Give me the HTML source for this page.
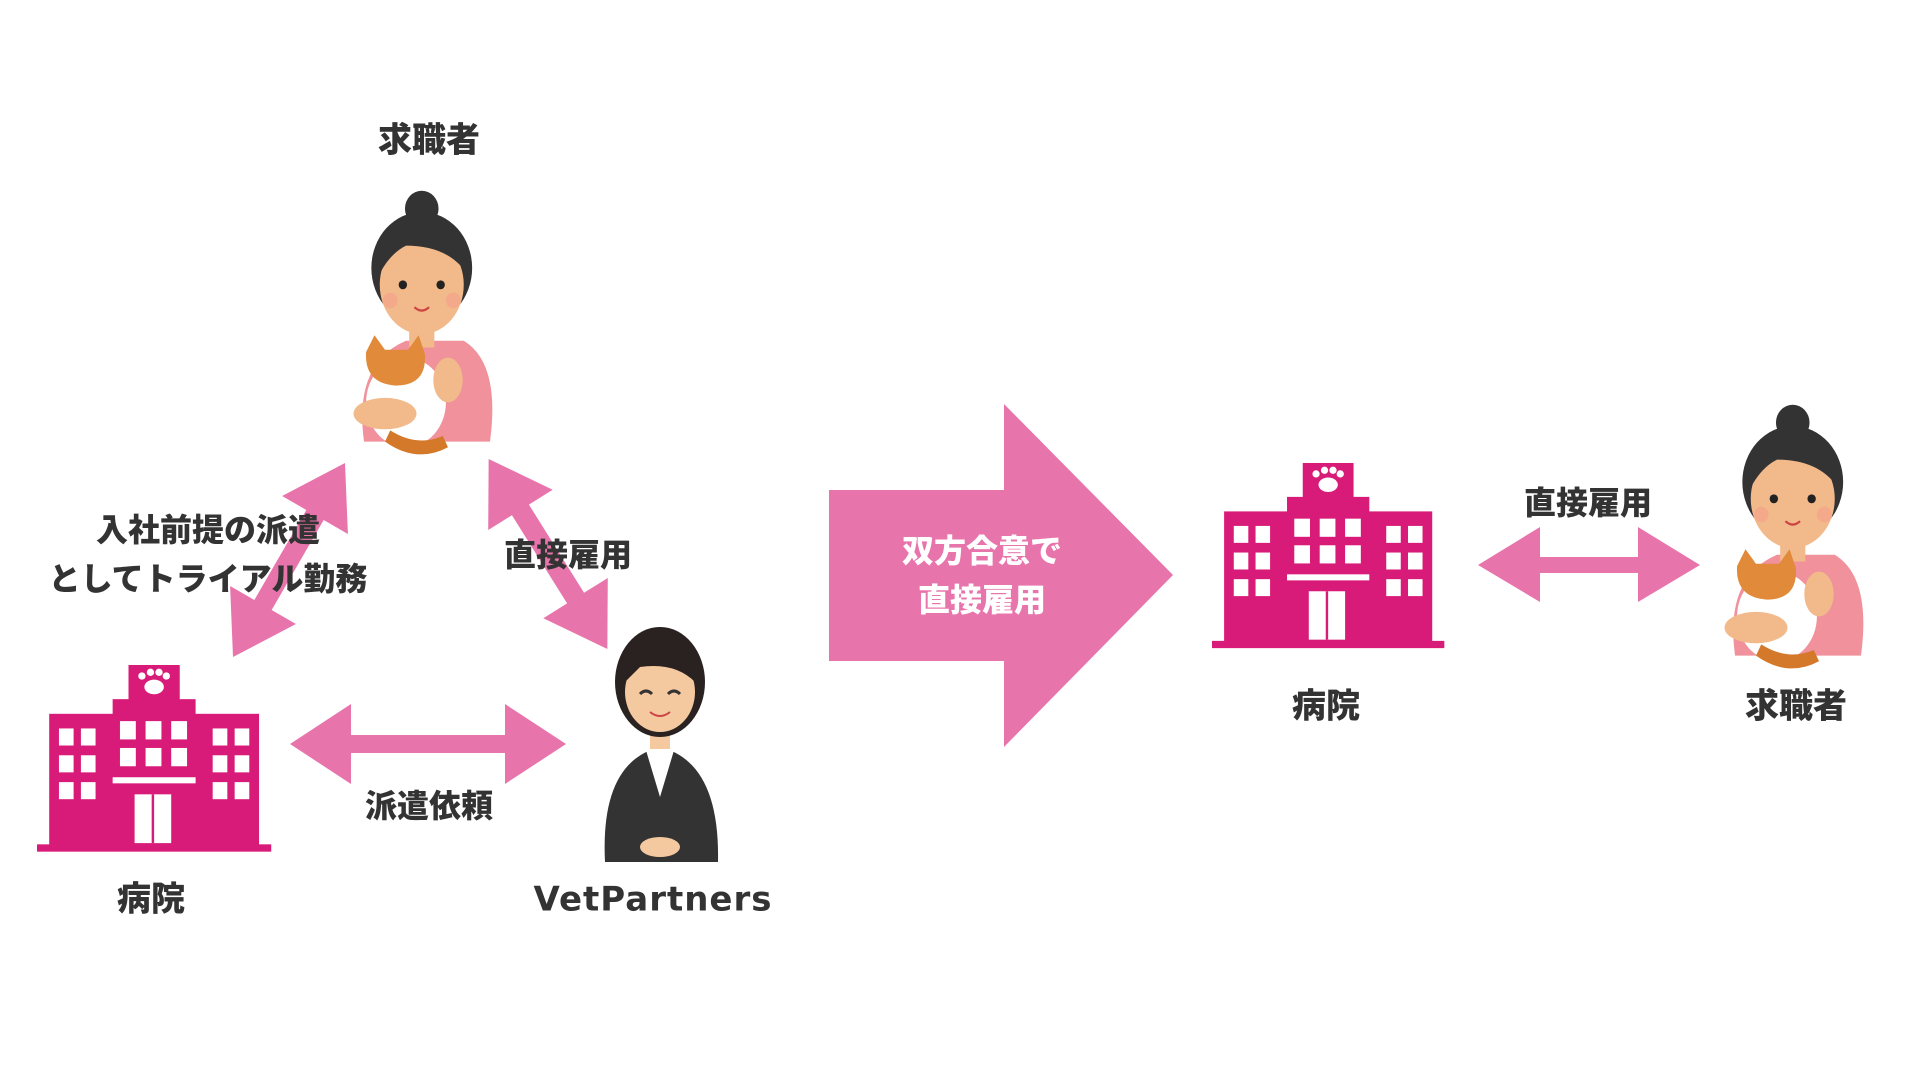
<!DOCTYPE html>
<html><head><meta charset="utf-8"><style>
body{margin:0;width:1920px;height:1080px;background:#fff;position:relative;overflow:hidden;font-family:"Liberation Sans","Noto Sans CJK JP",sans-serif;}
.t{position:absolute;font-weight:900;color:#333;font-size:34px;white-space:nowrap;transform:translate(-50%,-50%);line-height:1.2;text-align:center}
svg{position:absolute;left:0;top:0}
</style></head><body>
<svg width="1920" height="1080" viewBox="0 0 1920 1080">
<defs>
<g id="bld">
<rect x="75" y="0" width="42" height="32" fill="#d81b78"/>
<g fill="#fff"><ellipse cx="96" cy="18" rx="8" ry="6"/><circle cx="86" cy="9" r="3"/><circle cx="93" cy="6" r="3"/><circle cx="100" cy="6" r="3"/><circle cx="106" cy="9" r="3"/></g>
<rect x="62" y="28" width="68" height="14" fill="#d81b78"/>
<rect x="10" y="40" width="172" height="110" fill="#d81b78"/>
<rect x="0" y="147" width="192" height="6" fill="#d81b78"/>
<g fill="#fff">
<rect x="18" y="52" width="12" height="14"/><rect x="36" y="52" width="12" height="14"/>
<rect x="18" y="74" width="12" height="14"/><rect x="36" y="74" width="12" height="14"/>
<rect x="18" y="96" width="12" height="14"/><rect x="36" y="96" width="12" height="14"/>
<rect x="144" y="52" width="12" height="14"/><rect x="162" y="52" width="12" height="14"/>
<rect x="144" y="74" width="12" height="14"/><rect x="162" y="74" width="12" height="14"/>
<rect x="144" y="96" width="12" height="14"/><rect x="162" y="96" width="12" height="14"/>
<rect x="68" y="46" width="13" height="15"/><rect x="89" y="46" width="13" height="15"/><rect x="110" y="46" width="13" height="15"/>
<rect x="68" y="68" width="13" height="15"/><rect x="89" y="68" width="13" height="15"/><rect x="110" y="68" width="13" height="15"/>
<rect x="62" y="92" width="68" height="5"/>
<rect x="80" y="106" width="30" height="40"/>
</g>
<line x1="95" y1="106" x2="95" y2="146" stroke="#d81b78" stroke-width="2"/>
</g>
<g id="nurse">
<path d="M20 230 Q10 160 60 140 L115 140 Q150 160 140 230 Z" fill="#f0919c"/>
<circle cx="75" cy="22" r="16" fill="#333"/>
<ellipse cx="75" cy="75" rx="48" ry="50" fill="#333"/>
<ellipse cx="75" cy="90" rx="40" ry="44" fill="#f2b98a"/>
<path d="M35 80 Q40 35 80 38 Q115 45 118 80 Q100 55 60 55 Q45 62 35 80Z" fill="#333"/>
<rect x="63" y="128" width="24" height="18" fill="#f2b98a"/>
<circle cx="57" cy="90" r="4" fill="#222"/><circle cx="93" cy="90" r="4" fill="#222"/>
<path d="M68 110 Q75 116 82 110" stroke="#c44" stroke-width="2" fill="none"/>
<circle cx="45" cy="104" r="7" fill="#f5a08a" opacity=".6"/><circle cx="105" cy="104" r="7" fill="#f5a08a" opacity=".6"/>
<ellipse cx="60" cy="195" rx="38" ry="40" fill="#fff"/>
<path d="M22 150 L30 135 L40 148 L62 148 L72 135 L78 152 Q80 180 50 180 Q20 178 22 150Z" fill="#e08a3a"/>
<path d="M40 230 Q70 250 100 235 L95 225 Q70 235 45 220Z" fill="#d4782a"/>
<ellipse cx="40" cy="205" rx="30" ry="14" fill="#f2b98a"/>
<ellipse cx="100" cy="175" rx="14" ry="20" fill="#f2b98a"/>
</g>
<g id="biz">
<path d="M5 240 Q0 140 60 125 Q120 140 118 240 Z" fill="#333"/>
<path d="M45 125 L60 175 L75 125Z" fill="#fff"/>
<rect x="50" y="105" width="20" height="22" fill="#f5c9a0"/>
<ellipse cx="60" cy="60" rx="45" ry="55" fill="#2a2220"/>
<ellipse cx="60" cy="70" rx="35" ry="40" fill="#f5c9a0"/>
<path d="M25 60 Q40 20 70 25 Q95 35 95 60 Q75 40 40 45Z" fill="#2a2220"/>
<path d="M40 72 Q46 66 52 72 M68 72 Q74 66 80 72" stroke="#333" stroke-width="3" fill="none"/>
<path d="M50 90 Q60 98 70 90" stroke="#c44" stroke-width="2" fill="none"/>
<ellipse cx="60" cy="225" rx="20" ry="10" fill="#f5c9a0"/>
</g>
</defs>
<use href="#nurse" transform="translate(343,184) scale(1.05,1.12)"/>
<use href="#bld" transform="translate(37,665) scale(1.22,1.22)"/>
<use href="#biz" transform="translate(600,622)"/>
<g fill="#e874ac">
<polygon points="290,744 351,704 351,735 505,735 505,704 566,744 505,784 505,753 351,753 351,784"/>
<polygon points="1478,565 1540,527 1540,557 1638,557 1638,527 1700,565 1638,602 1638,573 1540,573 1540,602"/>
<polygon points="829,490 1004,490 1004,404 1173,575 1004,747 1004,661 829,661"/>
<g transform="translate(289,560) rotate(-60)"><polygon points="-112,0 -52,-38 -52,-10 52,-10 52,-38 112,0 52,38 52,10 -52,10 -52,38"/></g>
<g transform="translate(548,554) rotate(58)"><polygon points="-112,0 -52,-38 -52,-10 52,-10 52,-38 112,0 52,38 52,10 -52,10 -52,38"/></g>
</g>
<use href="#bld" transform="translate(1212,463) scale(1.21,1.21)"/>
<use href="#nurse" transform="translate(1714,398) scale(1.05,1.12)"/>
</svg>
<div class="t" style="left:429px;top:141px">求職者</div>
<div class="t" style="left:208px;top:555px;font-size:32px;line-height:49px">入社前提の派遣<br>としてトライアル勤務</div>
<div class="t" style="left:568px;top:555px;font-size:32px">直接雇用</div>
<div class="t" style="left:429px;top:806px;font-size:32px">派遣依頼</div>
<div class="t" style="left:151px;top:900px">病院</div>
<div class="t" style="left:653px;top:900px;font-family:'DejaVu Sans',sans-serif;font-size:34px;letter-spacing:1px">VetPartners</div>
<div class="t" style="left:982px;top:576px;color:#fff;font-size:32px;line-height:49px">双方合意で<br>直接雇用</div>
<div class="t" style="left:1588px;top:503px;font-size:32px">直接雇用</div>
<div class="t" style="left:1326px;top:707px">病院</div>
<div class="t" style="left:1796px;top:707px">求職者</div>
</body></html>
